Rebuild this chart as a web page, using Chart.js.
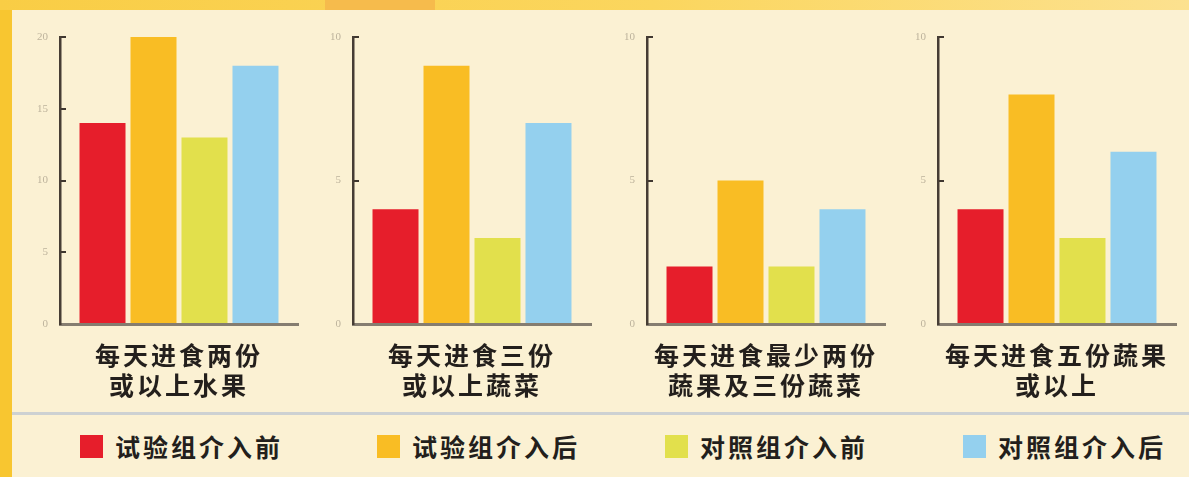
<!DOCTYPE html>
<html>
<head>
<meta charset="utf-8">
<script src="https://cdn.jsdelivr.net/npm/chart.js@4.4.0/dist/chart.umd.min.js"></script>
<style>
    html, body { margin: 0; padding: 0; }
    body {
        width: 1189px; height: 477px; position: relative; overflow: hidden;
        background: #f8c630;
        font-family: "Noto Sans CJK SC", sans-serif;
    }
    .top-band {
        position: absolute; left: 0; top: 0; width: 1189px; height: 10px;
        background: linear-gradient(90deg, #f9cd45, #fbd65e 55%, #fce18f);
    }
    .top-patch { position: absolute; left: 325px; top: 0; width: 110px; height: 10px; background: #f6bb4c; }
    .panel { position: absolute; left: 12px; top: 10px; right: 0; bottom: 0; background: #fbf1d3; }
    .sep { position: absolute; left: 12px; right: 0; top: 412px; height: 3px; background: #cdd1d2; }
    .chart-box { position: absolute; top: 0; width: 290px; height: 410px; }
    .legend-item {
        position: absolute; top: 432px; height: 28px;
        display: flex; align-items: center;
        font-weight: bold; font-size: 25px; letter-spacing: 3px; color: #231f1c;
    }
    .swatch { width: 23px; height: 23px; margin-right: 12px; }
</style>
</head>
<body>
<div class="top-band"></div>
<div class="top-patch"></div>
<div class="panel"></div>
<div class="sep"></div>
<div id="charts"></div>
<div id="legend"></div>

<script>
// Dữ liệu
const groups = ['试验组介入前', '试验组介入后', '对照组介入前', '对照组介入后'];
const categories = [
    ['每天进食两份', '或以上水果'],
    ['每天进食三份', '或以上蔬菜'],
    ['每天进食最少两份', '蔬果及三份蔬菜'],
    ['每天进食五份蔬果', '或以上']
];
const testBefore = [14, 4, 2, 4];
const testAfter = [20, 9, 5, 8];
const ctrlBefore = [13, 3, 2, 3];
const ctrlAfter = [18, 7, 4, 6];
const yMax = [20, 10, 10, 10];
const yStep = [5, 5, 5, 5];

const colors = ['#e61e2b', '#f9bd24', '#e2e04c', '#94d0ee'];
const axisX = [60, 353, 647, 938];

// Giãn chữ cho nhãn danh mục (vẽ sau datasets)
const spacingPlugin = {
    id: 'catSpacing',
    afterDatasetsDraw(chart) { chart.ctx.letterSpacing = '3px'; },
    afterDraw(chart) { chart.ctx.letterSpacing = '0px'; }
};

const chartsDiv = document.getElementById('charts');

categories.forEach((cat, i) => {
    const box = document.createElement('div');
    box.className = 'chart-box';
    box.style.left = (axisX[i] - 50) + 'px';
    const canvas = document.createElement('canvas');
    box.appendChild(canvas);
    chartsDiv.appendChild(box);

    const series = [testBefore, testAfter, ctrlBefore, ctrlAfter];
    new Chart(canvas.getContext('2d'), {
        type: 'bar',
        data: {
            labels: [cat],
            datasets: groups.map((g, k) => ({
                label: g,
                data: [series[k][i]],
                backgroundColor: colors[k],
                borderWidth: 0
            }))
        },
        options: {
            responsive: true,
            maintainAspectRatio: false,
            animation: false,
            barPercentage: 0.902,
            categoryPercentage: 0.857,
            layout: { padding: { top: 37, right: 2, left: 0, bottom: 0 } },
            scales: {
                x: {
                    grid: { display: false, drawTicks: false },
                    border: { display: true, color: '#857d70', width: 3 },
                    ticks: {
                        z: 1,
                        autoSkip: false,
                        maxRotation: 0,
                        minRotation: 0,
                        padding: 16,
                        color: '#231f1c',
                        font: { family: '"Noto Sans CJK SC"', size: 25, weight: 'bold', lineHeight: 1.2 }
                    },
                    afterFit(scale) { scale.height = 86; }
                },
                y: {
                    min: 0,
                    max: yMax[i],
                    grid: { drawOnChartArea: false, drawTicks: true, tickLength: -6, color: '#3f372f', lineWidth: 2 },
                    border: { display: true, color: '#463d34', width: 2.5 },
                    ticks: {
                        stepSize: yStep[i],
                        padding: 18,
                        color: '#bdb39c',
                        font: { family: '"Liberation Serif"', size: 11 }
                    },
                    afterFit(scale) { scale.width = 50; }
                }
            },
            plugins: {
                legend: { display: false },
                tooltip: { enabled: false }
            }
        },
        plugins: [spacingPlugin]
    });
});

// Chú thích
const legendX = [80, 377, 665, 963];
const legendDiv = document.getElementById('legend');
groups.forEach((g, k) => {
    const item = document.createElement('div');
    item.className = 'legend-item';
    item.style.left = legendX[k] + 'px';
    item.innerHTML = `<span class="swatch" style="background:${colors[k]}"></span><span>${g}</span>`;
    legendDiv.appendChild(item);
});
</script>
</body>
</html>
